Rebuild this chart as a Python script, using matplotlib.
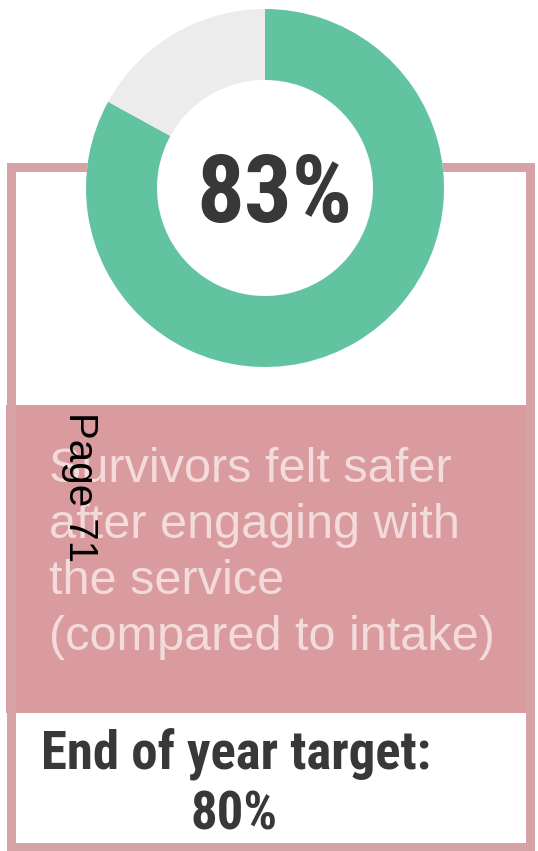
import matplotlib
matplotlib.use("Agg")
import matplotlib.pyplot as plt
from matplotlib import font_manager
from matplotlib.patches import Rectangle, Circle


W, H = 538, 851

share_values = [83, 17]
share_colors = ["#62C3A1", "#ECECEC"]
target_value = 80
description_lines = [
    "Survivors felt safer",
    "after engaging with",
    "the service",
    "(compared to intake)",
]
target_caption = "End of year target:"
page_label = "Page 71"

BORDER = "#D5A3A6"
BAND = "#D99B9D"
DARK = "#383838"
PALE = "#F3DADB"


def pick_font(candidates, default="DejaVu Sans"):
    installed = {f.name for f in font_manager.fontManager.ttflist}
    for name in candidates:
        if name in installed:
            return name
    return default


def top(y):
    # layout is measured from the top edge, axes run bottom-up
    return H - y


narrow = pick_font(["Roboto Condensed", "Liberation Sans Narrow", "Open Sans Condensed"])
sans = pick_font(["Liberation Sans", "Arial"])

fig = plt.figure(figsize=(W / 100, H / 100), dpi=100)
ax = fig.add_axes([0, 0, 1, 1])

# outer frame and the coloured band
ax.add_patch(Rectangle((6, top(713)), 528, 713 - 405, facecolor=BAND, edgecolor="none", zorder=1))
ax.add_patch(Rectangle((10.5, top(846.5)), 519, 846.5 - 166.5, facecolor="none",
                       edgecolor=BORDER, linewidth=9 * 0.72, zorder=1.5))

# donut
cx, cy, r_out, ring = 265, top(188), 179, 71
ax.add_patch(Circle((cx, cy), r_out, facecolor="white", edgecolor="none", zorder=2))
wedges, _ = ax.pie(share_values, colors=share_colors, startangle=90, counterclock=False,
                   center=(cx, cy), radius=r_out, frame=False,
                   wedgeprops=dict(width=ring, linewidth=0))
for w in wedges:
    w.set_zorder(3)

ax.text(274, top(222), f"{share_values[0]}%", ha="center", va="baseline",
        fontsize=68, fontweight="bold", color=DARK, family=narrow, zorder=4)

# description in the band
for i, line in enumerate(description_lines):
    ax.text(49, top(482 + 56 * i), line, ha="left", va="baseline",
            fontsize=35, color=PALE, family=sans, zorder=4)

ax.text(80, top(487), page_label, rotation=-90, ha="center", va="center",
        fontsize=29, color="black", family=sans, zorder=5)

# target box
ax.text(236, top(768), target_caption, ha="center", va="baseline",
        fontsize=38, fontweight="bold", color=DARK, family=narrow, zorder=4)
ax.text(234, top(830), f"{target_value}%", ha="center", va="baseline",
        fontsize=38, fontweight="bold", color=DARK, family=narrow, zorder=4)

ax.set_xlim(0, W)
ax.set_ylim(0, H)
ax.set_aspect("auto")
ax.axis("off")

fig.savefig("out.png", dpi=100)
plt.close(fig)
